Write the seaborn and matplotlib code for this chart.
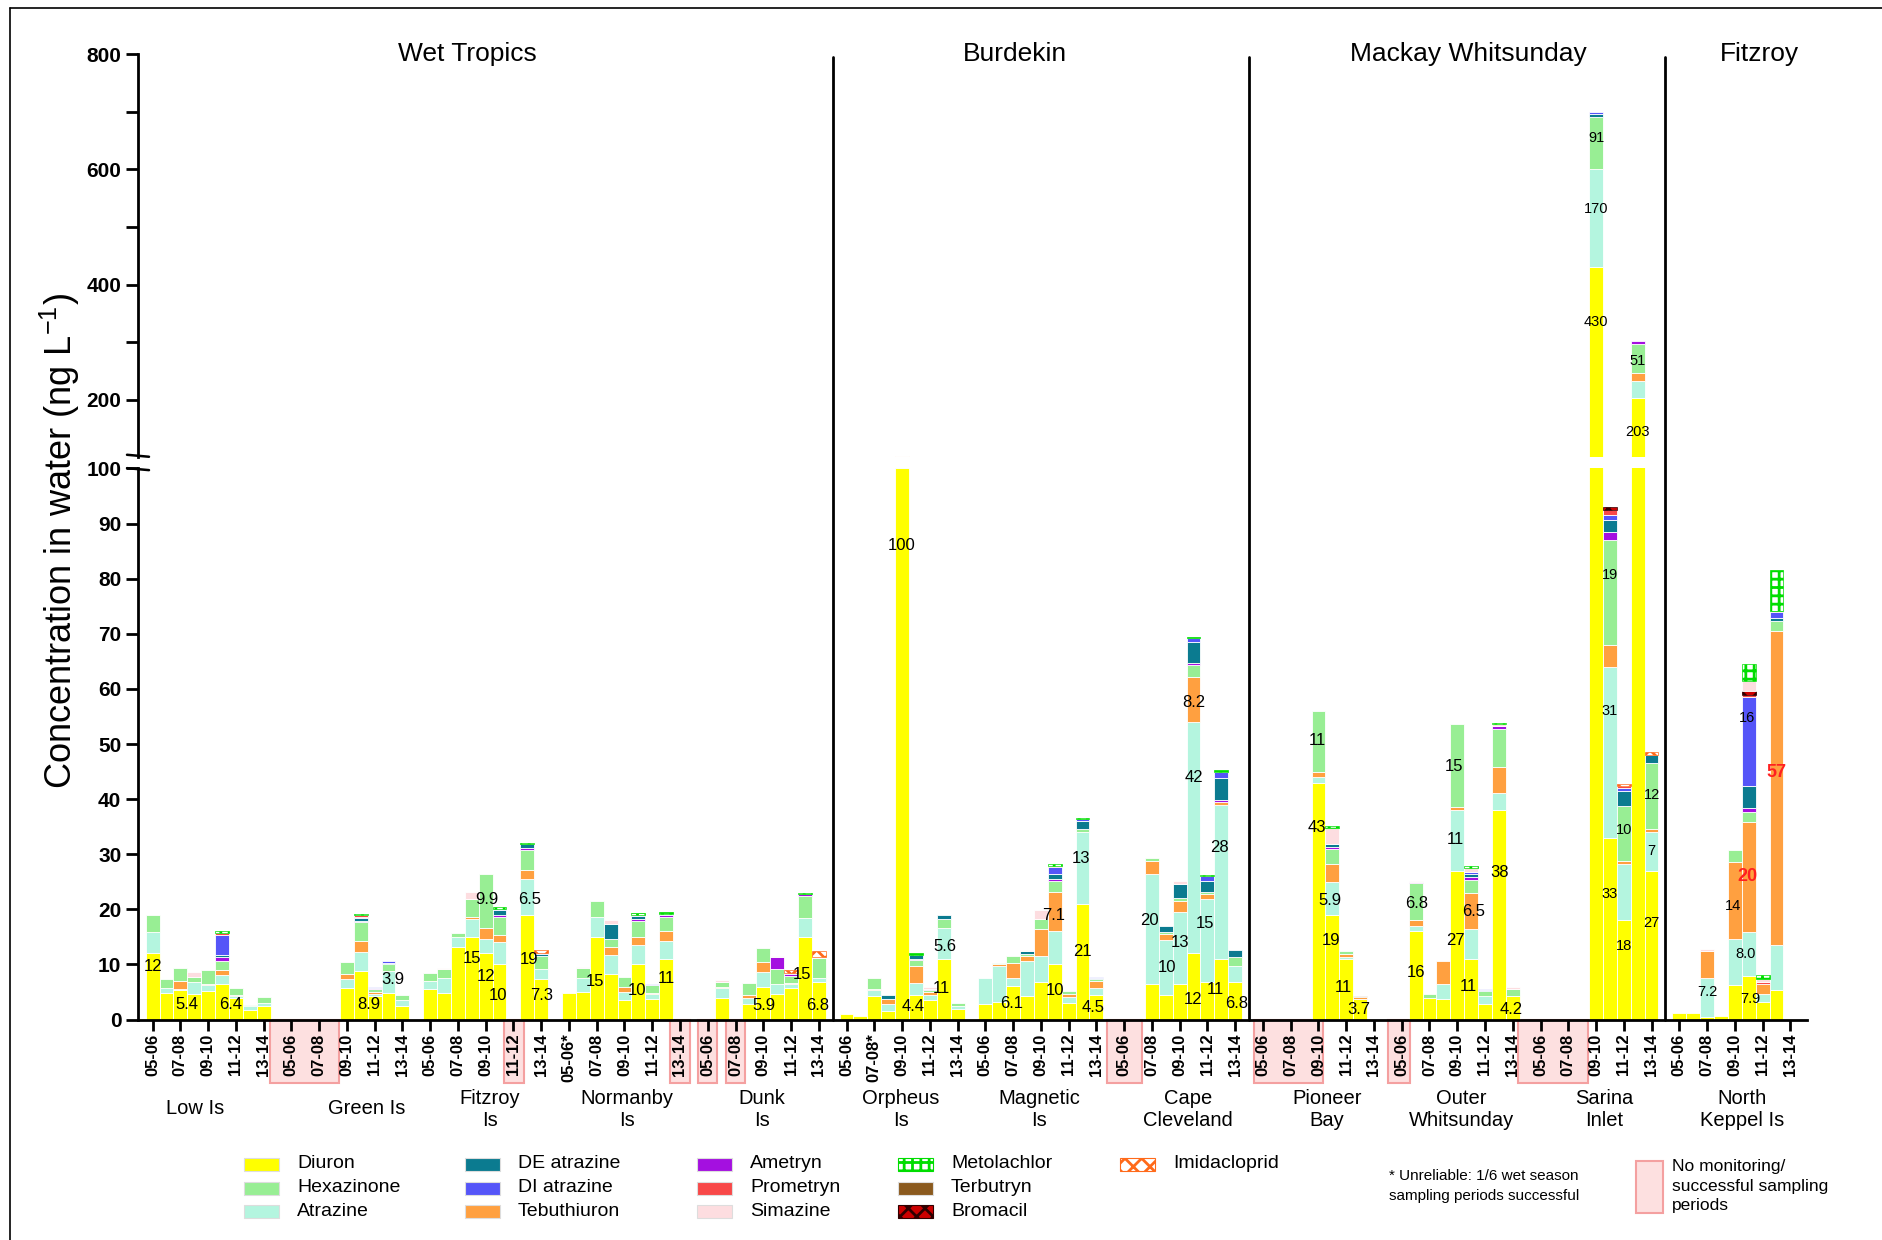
import numpy as np
import pandas as pd
import matplotlib
matplotlib.use("Agg")
import matplotlib.pyplot as plt
import matplotlib.transforms as mtransforms
from matplotlib.patches import Rectangle
from matplotlib.lines import Line2D
from matplotlib import font_manager
from matplotlib.colors import to_rgba
import seaborn as sns

# ------------------------------------------------------------------ data
regions = ["Wet Tropics", "Burdekin", "Mackay Whitsunday", "Fitzroy"]
sites = ["Low Is", "Green Is", "Fitzroy\nIs", "Normanby\nIs", "Dunk\nIs",
         "Orpheus\nIs", "Magnetic\nIs", "Cape\nCleveland",
         "Pioneer\nBay", "Outer\nWhitsunday", "Sarina\nInlet", "North\nKeppel Is"]
years = ["05-06", "06-07", "07-08", "08-09", "09-10",
         "10-11", "11-12", "12-13", "13-14"]
# years flagged with * (unreliable wet season sampling)
flagged = {(3, 0), (5, 2)}
# (first slot, last slot) of periods with no monitoring / no successful sampling
no_monitoring = [(8.45, 13.4), (25.3, 26.75), (37.25, 38.7), (39.3, 40.7),
                 (41.3, 42.7), (68.8, 71.3), (79.35, 84.3), (89.0, 90.6),
                 (98.4, 103.4)]

# concentrations (ng/L), one row of 9 years per site
diuron = [
    12, 4.8, 5.4, 4.6, 5.2, 6.4, 3.9, 1.8, 2.4,        # Low Is
    0, 0, 0, 0, 5.8, 8.9, 4.2, 4.9, 2.5,               # Green Is
    5.5, 4.9, 13.1, 15, 12, 10, 0, 19, 7.3,            # Fitzroy Is
    4.9, 5.0, 15, 8.2, 3.5, 10, 3.7, 11, 0,            # Normanby Is
    0, 3.9, 0, 2.9, 5.9, 4.6, 5.8, 15, 6.8,            # Dunk Is
    1.0, 0.6, 4.3, 1.5, 100, 4.4, 3.5, 11, 1.9,        # Orpheus Is
    2.9, 3.2, 6.1, 4.2, 6.8, 10, 3.0, 21, 4.5,         # Magnetic Is
    0, 0, 6.5, 4.4, 6.5, 12, 6.8, 11, 6.8,             # Cape Cleveland
    0, 0, 0, 0, 43, 19, 11, 3.7, 0,                    # Pioneer Bay
    0, 16, 3.9, 3.8, 27, 11, 2.8, 38, 4.2,             # Outer Whitsunday
    0, 0, 0, 0, 430, 33, 18, 203, 27,                  # Sarina Inlet
    1.2, 1.2, 0.4, 0.7, 6.2, 7.9, 3.2, 5.3, 0,         # North Keppel Is
]
atrazine = [
    3.9, 0.9, 0.2, 2.3, 1.0, 1.7, 0.3, 0.6, 0.6,
    0, 0, 0, 0, 1.6, 3.3, 0.5, 3.9, 1.0,
    1.5, 2.6, 1.8, 3.3, 2.6, 4.1, 0, 6.5, 1.9,
    0, 2.6, 3.7, 3.5, 1.5, 3.6, 0.9, 3.2, 0,
    0, 1.8, 0, 1.0, 2.8, 1.8, 0.7, 3.5, 0.7,
    0, 0, 1.0, 1.4, 1.0, 2.3, 0.9, 5.6, 0.6,
    4.7, 6.5, 1.4, 6.4, 4.8, 6.0, 1.1, 13, 1.3,
    0, 0, 20, 10, 13, 42, 15, 28, 3.0,
    0, 0, 0, 0, 1.1, 5.9, 0.4, 0, 0,
    0, 0.9, 0, 2.7, 11, 5.4, 1.5, 3.2, 0,
    0, 0, 0, 0, 170, 31, 10.2, 29, 7,
    0, 0, 7.2, 0, 8.4, 8.0, 1.5, 8.2, 0,
]
tebuthiuron = [
    0, 0, 1.4, 0, 0.2, 0.9, 0.2, 0, 0,
    0, 0, 0, 0, 0.9, 2.1, 0.3, 0, 0,
    0, 0, 0, 0.3, 2.0, 1.3, 0, 1.6, 0,
    0, 0, 0, 1.5, 0.9, 1.4, 0.3, 1.8, 0,
    0, 0.3, 0, 0.5, 1.7, 0, 0.2, 0, 0,
    0, 0, 0.3, 0.9, 0.8, 3.0, 0.6, 0, 0,
    0, 0.4, 2.7, 1.0, 4.9, 7.1, 0.6, 0, 1.2,
    0, 0, 2.3, 1.1, 2.1, 8.2, 0.9, 0.5, 0,
    0, 0, 0, 0, 0.9, 3.4, 0.5, 0.4, 0,
    0, 1.1, 0, 4.1, 0.6, 6.5, 0, 4.6, 0,
    0, 0, 0, 0, 0, 4, 0.5, 14, 0.5,
    0, 0, 4.9, 0, 14, 20, 1.8, 57, 0,
]
hexazinone = [
    3.0, 1.6, 2.4, 0.8, 2.6, 1.7, 1.3, 0.2, 1.1,
    0, 0, 0, 0, 2.2, 3.4, 0.6, 1.2, 0.9,
    1.4, 1.7, 0.9, 3.2, 9.9, 3.3, 0, 3.7, 2.3,
    0, 1.7, 2.9, 1.5, 1.9, 2.9, 1.3, 2.6, 0,
    0, 0.8, 0, 2.3, 2.5, 2.7, 1.3, 3.9, 3.6,
    0, 0, 2.0, 0, 0.5, 1.1, 0.3, 1.7, 0.6,
    0, 0.2, 1.3, 0.3, 1.8, 2.1, 0.5, 0.6, 0.3,
    0, 0, 0.5, 0.4, 0.5, 2.1, 0.4, 0, 1.5,
    0, 0, 0, 0, 11, 2.7, 0.6, 0, 0,
    0, 6.8, 0.8, 0, 15, 2.4, 0.9, 6.9, 1.3,
    0, 0, 0, 0, 91, 19, 10, 51, 12,
    0, 0, 0, 0, 2.1, 1.7, 0, 1.8, 0,
]
ametryn = [
    0, 0, 0, 0, 0, 0.6, 0, 0, 0,
    0, 0, 0, 0, 0, 0.25, 0.2, 0, 0,
    0, 0, 0, 0, 0, 0.3, 0, 0.3, 0,
    0, 0, 0, 0, 0, 0.35, 0, 0.3, 0,
    0, 0, 0, 0, 0, 2.2, 0.25, 0.3, 0,
    0, 0, 0, 0, 0, 0.25, 0.25, 0, 0,
    0, 0, 0, 0, 0, 0.3, 0, 0, 0,
    0, 0, 0, 0, 0, 0.4, 0, 0.3, 0,
    0, 0, 0, 0, 0, 0.4, 0, 0, 0,
    0, 0.2, 0, 0, 0, 0.6, 0, 0.6, 0,
    0, 0, 0, 0, 0, 1.5, 0, 5, 0,
    0, 0, 0, 0, 0, 0.85, 0, 0, 0,
]
de_atrazine = [
    0, 0, 0, 0, 0, 0.5, 0, 0, 0,
    0, 0, 0, 0, 0, 0.4, 0, 0.3, 0,
    0, 0, 0, 0, 0, 0.85, 0, 0.7, 0.35,
    0, 0, 0, 2.6, 0, 0.6, 0, 0, 0,
    0, 0, 0, 0, 0, 0, 0, 0, 0,
    0, 0, 0, 0.7, 0, 0.65, 0, 0.7, 0,
    0, 0, 0, 0.5, 0, 0.9, 0, 1.5, 0.3,
    0, 0, 0, 1.1, 2.5, 3.8, 2.1, 4.1, 1.35,
    0, 0, 0, 0, 0, 0.4, 0, 0, 0,
    0, 0, 0, 0, 0, 0.6, 0.2, 0, 0,
    0, 0, 0, 0, 5, 2.1, 2.7, 0, 1.5,
    0, 0, 0, 0, 0, 4.0, 0, 0.6, 0,
]
di_atrazine = [
    0, 0, 0, 0, 0, 3.6, 0, 0, 0,
    0, 0, 0, 0, 0, 0.35, 0.2, 0.3, 0,
    0, 0, 0, 0, 0, 0.2, 0, 0, 0.15,
    0, 0, 0, 0, 0, 0.2, 0.2, 0.3, 0,
    0, 0, 0, 0, 0, 0, 0.2, 0, 0,
    0, 0, 0, 0, 0, 0, 0, 0, 0,
    0, 0, 0, 0, 0, 1.2, 0, 0.3, 0.2,
    0, 0, 0, 0, 0, 0.7, 0.9, 1.0, 0,
    0, 0, 0, 0, 0, 0, 0, 0, 0,
    0, 0, 0, 0, 0, 0.3, 0.15, 0, 0,
    0, 0, 0, 0, 3, 1.0, 0.6, 0, 0,
    0, 0, 0, 0, 0, 16, 0, 1.0, 0,
]
prometryn = [
    0, 0, 0, 0, 0, 0.3, 0, 0, 0,
    0, 0, 0, 0, 0, 0.3, 0, 0, 0,
    0, 0, 0, 0, 0, 0, 0, 0, 0,
    0, 0, 0, 0, 0, 0, 0, 0, 0,
    0, 0, 0, 0, 0, 0, 0, 0, 0,
    0, 0, 0, 0, 0, 0, 0, 0, 0,
    0, 0, 0, 0, 0, 0.3, 0, 0, 0,
    0, 0, 0, 0, 0, 0, 0, 0, 0,
    0, 0, 0, 0, 0, 0, 0, 0, 0,
    0, 0, 0, 0, 0, 0, 0, 0, 0,
    0, 0, 0, 0, 0, 0.8, 0.4, 0, 0,
    0, 0, 0, 0, 0, 0.5, 0.3, 0, 0,
]
bromacil = [0] * 90 + [0, 0, 0, 0, 0, 0.6, 0, 0, 0] + [0, 0, 0, 0, 0, 0.6, 0, 0, 0]
simazine = [
    0, 0, 0, 0.9, 0, 0, 0, 0, 0,
    0, 0, 0, 0, 0, 0, 0, 0, 0,
    0, 0.2, 0, 1.3, 0, 0, 0, 0, 0,
    0, 0.3, 0, 0.7, 0, 0, 0, 0, 0,
    0, 0.3, 0, 0, 0, 0.2, 0, 0, 0.3,
    0, 0, 0, 0, 0, 0, 0.4, 0, 0,
    0, 0, 0, 0.3, 1.5, 0, 0, 0, 0,
    0, 0, 0, 0, 0.6, 0, 0, 0, 0,
    0, 0, 0, 0, 0, 3.0, 0, 0, 0,
    0, 0.2, 0, 0, 0, 0.7, 0, 0.3, 0.4,
    0, 0, 0, 0, 0, 0, 0, 0, 0,
    0, 0, 0.3, 0, 0, 1.8, 0.5, 0, 0,
]
terbutryn = [0] * 72 + [0, 0, 0, 0, 0, 0, 0, 0.2, 0] + [0] * 18 + [0, 0, 0, 0, 0, 0, 0, 0.3, 0]
metolachlor = [
    0, 0, 0, 0, 0, 0.3, 0, 0, 0,
    0, 0, 0, 0, 0, 0.2, 0, 0, 0,
    0, 0, 0, 0, 0, 0.3, 0, 0.3, 0,
    0, 0, 0, 0, 0, 0.3, 0, 0.3, 0,
    0, 0, 0, 0, 0, 0, 0, 0.3, 0,
    0, 0, 0, 0, 0, 0.3, 0, 0, 0,
    0, 0, 0, 0, 0, 0.3, 0, 0.2, 0,
    0, 0, 0, 0, 0, 0.3, 0.2, 0.3, 0,
    0, 0, 0, 0, 0, 0.3, 0, 0, 0,
    0, 0, 0, 0, 0, 0.3, 0, 0.3, 0,
    0, 0, 0, 0, 0, 0, 0, 0, 0,
    0, 0, 0, 0, 0, 3.2, 0.8, 7.3, 0,
]
imidacloprid = [
    0, 0, 0, 0, 0, 0, 0, 0, 0,
    0, 0, 0, 0, 0, 0, 0, 0, 0,
    0, 0, 0, 0, 0, 0, 0, 0, 0.6,
    0, 0, 0, 0, 0, 0, 0, 0, 0,
    0, 0, 0, 0, 0, 0, 0.6, 0, 1.0,
    0, 0, 0, 0, 0, 0, 0, 0, 0,
    0, 0, 0, 0, 0, 0, 0, 0, 0,
    0, 0, 0, 0, 0, 0, 0, 0, 0,
    0, 0, 0, 0, 0, 0, 0, 0, 0,
    0, 0, 0, 0, 0, 0, 0, 0, 0,
    0, 0, 0, 0, 0, 0, 0.4, 0, 0.6,
    0, 0, 0, 0, 0, 0, 0, 0, 0,
]

series = {
    "Diuron": diuron, "Atrazine": atrazine, "Tebuthiuron": tebuthiuron,
    "Hexazinone": hexazinone, "Ametryn": ametryn, "DE atrazine": de_atrazine,
    "DI atrazine": di_atrazine, "Prometryn": prometryn, "Bromacil": bromacil,
    "Simazine": simazine, "Terbutryn": terbutryn, "Metolachlor": metolachlor,
    "Imidacloprid": imidacloprid,
}
stack_order = list(series.keys())          # bottom -> top

# value labels: (site, year, compound, position within segment, x shift in slots)
value_labels = [
    (0, 0, "Diuron", 0.80, 0), (0, 2, "Diuron", 0.5, 0.45), (0, 5, "Diuron", 0.44, 0.6),
    (1, 5, "Diuron", 0.30, 0.6), (1, 7, "Atrazine", 0.62, 0.3),
    (2, 3, "Diuron", 0.74, 0), (2, 4, "Hexazinone", 0.52, 0.1), (2, 4, "Diuron", 0.65, 0),
    (2, 5, "Diuron", 0.43, -0.1), (2, 7, "Diuron", 0.57, 0.15), (2, 7, "Atrazine", 0.42, 0.2),
    (2, 8, "Diuron", 0.59, 0),
    (3, 2, "Diuron", 0.46, -0.1), (3, 5, "Diuron", 0.53, -0.1), (3, 7, "Diuron", 0.68, 0),
    (4, 4, "Diuron", 0.42, 0.05), (4, 7, "Diuron", 0.54, -0.2), (4, 8, "Diuron", 0.37, -0.1),
    (5, 4, "Diuron", 0.86, 0), (5, 5, "Diuron", 0.52, -0.2), (5, 7, "Diuron", 0.51, -0.2),
    (5, 7, "Atrazine", 0.41, 0.1),
    (6, 2, "Diuron", 0.49, -0.1), (6, 5, "Tebuthiuron", 0.41, -0.1), (6, 5, "Diuron", 0.53, 0),
    (6, 7, "Atrazine", 0.63, -0.1), (6, 7, "Diuron", 0.59, 0), (6, 8, "Diuron", 0.5, -0.2),
    (7, 2, "Atrazine", 0.57, -0.2), (7, 3, "Atrazine", 0.5, 0.1), (7, 4, "Atrazine", 0.57, 0),
    (7, 5, "Diuron", 0.31, 0), (7, 5, "Atrazine", 0.76, 0), (7, 5, "Tebuthiuron", 0.44, 0),
    (7, 6, "Atrazine", 0.71, -0.15), (7, 7, "Diuron", 0.5, -0.4), (7, 7, "Atrazine", 0.72, -0.15),
    (7, 8, "Diuron", 0.42, 0.1),
    (8, 4, "Hexazinone", 0.51, -0.1), (8, 4, "Diuron", 0.81, -0.1), (8, 5, "Atrazine", 0.44, -0.2),
    (8, 5, "Diuron", 0.76, -0.1), (8, 6, "Diuron", 0.53, -0.2), (8, 7, "Diuron", 0.51, -0.1),
    (9, 1, "Hexazinone", 0.46, 0.1), (9, 1, "Diuron", 0.53, 0), (9, 4, "Hexazinone", 0.49, -0.2),
    (9, 4, "Atrazine", 0.51, -0.1), (9, 4, "Diuron", 0.53, -0.1), (9, 5, "Tebuthiuron", 0.49, 0.2),
    (9, 5, "Diuron", 0.55, -0.2), (9, 7, "Diuron", 0.70, 0.05), (9, 8, "Diuron", 0.45, -0.1),
    (10, 4, "Diuron", 0.78, 0), (10, 4, "Atrazine", 0.59, 0), (10, 4, "Hexazinone", 0.59, 0),
    (10, 5, "Diuron", 0.69, 0), (10, 5, "Atrazine", 0.74, 0), (10, 5, "Hexazinone", 0.67, 0),
    (10, 6, "Diuron", 0.74, 0), (10, 6, "Hexazinone", 0.57, 0), (10, 7, "Diuron", 0.71, 0),
    (10, 7, "Hexazinone", 0.42, 0), (10, 8, "Hexazinone", 0.52, 0), (10, 8, "Atrazine", 0.5, 0),
    (10, 8, "Diuron", 0.65, 0),
    (11, 2, "Atrazine", 0.64, 0), (11, 4, "Tebuthiuron", 0.43, -0.1), (11, 5, "Atrazine", 0.51, -0.2),
    (11, 5, "Diuron", 0.48, 0.1), (11, 5, "Tebuthiuron", 0.5, -0.1), (11, 5, "DI atrazine", 0.77, -0.1),
    (11, 7, "Tebuthiuron", 0.55, 0),
]
one_decimal = {(11, 5, "Atrazine")}
red_labels = {(11, 5, "Tebuthiuron"), (11, 7, "Tebuthiuron")}

# ------------------------------------------------------------------ styling
def has_font(name):
    try:
        font_manager.findfont(font_manager.FontProperties(family=name),
                              fallback_to_default=False)
        return True
    except Exception:
        return False

SANS = "Liberation Sans" if has_font("Liberation Sans") else "DejaVu Sans"
NARROW = "Liberation Sans Narrow" if has_font("Liberation Sans Narrow") else SANS

sns.set_style("ticks")
plt.rcParams["font.family"] = [SANS, "DejaVu Sans"]
plt.rcParams["mathtext.default"] = "regular"
plt.rcParams["hatch.linewidth"] = 2.0
plt.rcParams["text.color"] = "black"
plt.rcParams["xtick.color"] = "black"
plt.rcParams["ytick.color"] = "black"

palette = {
    "Diuron": "#FFFF00", "Atrazine": "#B4F5DF", "Tebuthiuron": "#FFA040",
    "Hexazinone": "#98EE94", "Ametryn": "#A410E0", "DE atrazine": "#0B7B90",
    "DI atrazine": "#5555F8", "Prometryn": "#F84848", "Bromacil": "#C80000",
    "Simazine": "#FDDDE0", "Terbutryn": "#8B5A1E", "Metolachlor": "#F1FFF1",
    "Imidacloprid": "#FFF3EC",
}
# patterned fills: (face, hatch, hatch colour)
patterned = {
    "Metolachlor": ("white", "++", "#00DD00"),
    "Bromacil": ("#CC0000", "xx", "#300000"),
    "Imidacloprid": ("white", "xx", "#FF6A1A"),
}

# ------------------------------------------------------------------ long table
n_years = len(years)
rows = []
for comp, vals in series.items():
    for k, v in enumerate(vals):
        s, y = divmod(k, n_years)
        rows.append({"slot": s * 10 + y, "compound": comp, "value": float(v)})
df = pd.DataFrame(rows)

vals_arr = np.array([series[c] for c in stack_order], dtype=float)
cum_arr = np.cumsum(vals_arr, axis=0)

# ------------------------------------------------------------------ figure
W, H = 1883, 1240
fig = plt.figure(figsize=(W / 100, H / 100), dpi=100)


def fx(px):
    return px / W


def fy(py):
    return 1 - py / H


AX_L, AX_R = 138, 1807
Y0, Y100, YTOP_B, Y800 = 1019.6, 468.4, 457.5, 54
ax_bot = fig.add_axes([fx(AX_L), fy(Y0), fx(AX_R - AX_L), (Y0 - Y100) / H])
ax_top = fig.add_axes([fx(AX_L), fy(YTOP_B), fx(AX_R - AX_L), (YTOP_B - Y800) / H])

XLIM = (-1.05, 119.2)


def draw_stack(ax):
    sns.histplot(data=df, x="slot", weights="value", hue="compound",
                 hue_order=stack_order[::-1], multiple="stack", discrete=True,
                 shrink=1.0, palette=palette, edgecolor="white", linewidth=0.6,
                 alpha=1, legend=False, ax=ax)
    targets = {c: to_rgba(palette[c]) for c in patterned}
    for p in ax.patches:
        if p.get_height() <= 1e-9:
            p.set_visible(False)
            continue
        fc = p.get_facecolor()
        for comp, rgba in targets.items():
            if np.allclose(fc, rgba, atol=2e-3):
                face, hatch, hc = patterned[comp]
                p.set_facecolor(face)
                p.set_hatch(hatch)
                p.set_edgecolor(hc)
                p.set_linewidth(0.5)
    ax.set_xlim(*XLIM)
    ax.set_xlabel("")
    ax.set_ylabel("")


draw_stack(ax_bot)
draw_stack(ax_top)

ax_bot.set_ylim(0, 100)
ax_top.set_ylim(100, 800)

for ax in (ax_bot, ax_top):
    for side in ("top", "right"):
        ax.spines[side].set_visible(False)
    ax.spines["left"].set_linewidth(2.0)
    ax.spines["left"].set_color("black")
ax_top.spines["bottom"].set_visible(False)
ax_bot.spines["bottom"].set_linewidth(2.0)
ax_bot.spines["bottom"].set_color("black")

# y ticks
ax_bot.set_yticks(np.arange(0, 101, 10))
ax_bot.set_yticklabels([str(v) for v in range(0, 101, 10)], fontweight="bold", fontsize=15)
ax_top.set_yticks(np.arange(200, 801, 100))
ax_top.set_yticklabels([str(v) if v % 200 == 0 else "" for v in range(200, 801, 100)],
                       fontweight="bold", fontsize=15)
for ax in (ax_bot, ax_top):
    ax.tick_params(axis="y", left=True, length=9, width=2, direction="out", pad=3)
ax_top.tick_params(axis="x", bottom=False, labelbottom=False)

# x ticks: every second year
tick_slots, tick_text = [], []
for s in range(len(sites)):
    for y in range(0, n_years, 2):
        tick_slots.append(s * 10 + y)
        tick_text.append(years[y] + ("*" if (s, y) in flagged else ""))
ax_bot.set_xticks(tick_slots)
ax_bot.set_xticklabels(tick_text, rotation=90, fontweight="bold", fontsize=12,
                       family=[NARROW, "DejaVu Sans"], va="top", ha="center")
ax_bot.tick_params(axis="x", bottom=True, length=8, width=2, direction="out", pad=2)
ax_bot.xaxis.set_zorder(3)

# no-monitoring boxes behind the tick labels
box_h = (1083 - Y0) / (Y0 - Y100)
box_tr = mtransforms.blended_transform_factory(ax_bot.transData, ax_bot.transAxes)
for a, b in no_monitoring:
    ax_bot.add_patch(Rectangle((a, 0), b - a, -box_h, transform=box_tr,
                               facecolor="#FDE0E0", edgecolor="#F4A0A0",
                               linewidth=1.5, clip_on=False, zorder=0.2))

# axis break marks
for yb in (fy(YTOP_B) + 0.001, fy(Y100) - 0.001):
    fig.add_artist(Line2D([fx(AX_L - 11), fx(AX_L + 11)], [yb + 0.0012, yb - 0.0004],
                          transform=fig.transFigure, color="black", linewidth=1.8))

# region separators and titles
sep_tr = mtransforms.blended_transform_factory(ax_bot.transData, fig.transFigure)
for xs in (49, 79, 109):
    fig.add_artist(Line2D([xs, xs], [fy(Y0), fy(57)], transform=sep_tr,
                          color="black", linewidth=2.0))
region_title_x = [22.7, 62.1, 94.8, 115.8]
for name, xs in zip(regions, region_title_x):
    fig.text(xs, fy(54), name, transform=sep_tr, ha="center", va="center",
             fontsize=19)

# site names
site_label_x = [3.1, 15.4, 24.3, 34.2, 43.9, 53.9, 63.9, 74.6, 84.6, 94.3, 104.6, 114.5]
for name, xs in zip(sites, site_label_x):
    fig.text(xs, fy(1109), name, transform=sep_tr, ha="center", va="center",
             fontsize=14.5, linespacing=1.2)

# value labels, drawn from the stacked values
for (s, y, comp, frac, dx) in value_labels:
    i = stack_order.index(comp)
    k = s * n_years + y
    top = cum_arr[i, k]
    v = vals_arr[i, k]
    bot = top - v
    ypos = bot + frac * v
    ax = ax_top if ypos > 100 else ax_bot
    txt = f"{v:.1f}" if (s, y, comp) in one_decimal else f"{v:g}"
    size = 10.5 if s >= 10 else 12
    if (s, y, comp) in red_labels:
        ax.text(s * 10 + y + dx, ypos, txt, ha="center", va="center", fontsize=13,
                color="#FF2020", fontweight="bold", zorder=5)
    else:
        ax.text(s * 10 + y + dx, ypos, txt, ha="center", va="center", fontsize=size,
                color="black", zorder=5)

# y axis title
fig.text(fx(60), fy(541), "Concentration in water (ng L$^{-1}$)", rotation=90,
         ha="center", va="center", fontsize=26, family=[NARROW, "DejaVu Sans"])

# legend
legend_cols = [["Diuron", "Hexazinone", "Atrazine"],
               ["DE atrazine", "DI atrazine", "Tebuthiuron"],
               ["Ametryn", "Prometryn", "Simazine"],
               ["Metolachlor", "Terbutryn", "Bromacil"],
               ["Imidacloprid"]]
col_x = [244, 465, 697, 898, 1120]
row_y = [1164, 1188, 1211]
for cx, names in zip(col_x, legend_cols):
    for ry, name in zip(row_y, names):
        if name in patterned:
            face, hatch, hc = patterned[name]
        else:
            face, hatch, hc = palette[name], None, "#DDDDDD"
        r = Rectangle((fx(cx), fy(ry + 6.5)), fx(35), 13 / H, transform=fig.transFigure,
                      facecolor=face, edgecolor=hc, hatch=hatch, linewidth=0.8)
        fig.add_artist(r)
        fig.text(fx(cx + 53), fy(ry), name, ha="left", va="center", fontsize=14)

fig.text(fx(1389), fy(1186), "* Unreliable: 1/6 wet season\nsampling periods successful",
         ha="left", va="center", fontsize=11, linespacing=1.5,
         family=[NARROW, "DejaVu Sans"])
fig.add_artist(Rectangle((fx(1636), fy(1213)), fx(27), 52 / H, transform=fig.transFigure,
                         facecolor="#FDE0E0", edgecolor="#F4A0A0", linewidth=1.5))
fig.text(fx(1672), fy(1186), "No monitoring/\nsuccessful sampling\nperiods",
         ha="left", va="center", fontsize=12.5, linespacing=1.35)

# outer frame
fig.add_artist(Line2D([fx(10), fx(10)], [0, fy(8)], transform=fig.transFigure,
                      color="black", linewidth=1.2))
fig.add_artist(Line2D([fx(10), 1], [fy(8), fy(8)], transform=fig.transFigure,
                      color="black", linewidth=1.2))

fig.savefig("out.png", dpi=100)
